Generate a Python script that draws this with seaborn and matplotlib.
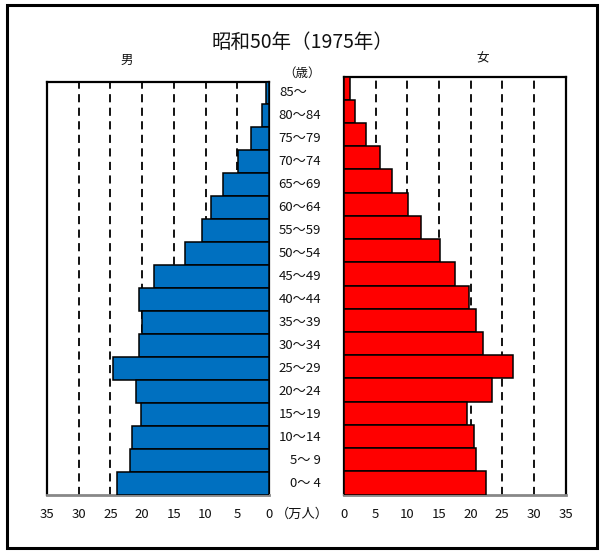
import matplotlib
matplotlib.use("Agg")
import matplotlib.pyplot as plt
import matplotlib.transforms as mtransforms
from matplotlib.patches import Rectangle
import seaborn as sns
import pandas as pd

sns.set_theme(style="white")
plt.rcParams["font.family"] = ["Noto Sans CJK JP", "DejaVu Sans"]

# Age groups, top (oldest) to bottom (youngest)
ages = ["85～", "80～84", "75～79", "70～74", "65～69", "60～64", "55～59",
        "50～54", "45～49", "40～44", "35～39", "30～34", "25～29", "20～24",
        "15～19", "10～14", "5～ 9", "0～ 4"]

# Population in units of 10,000 people
male = [0.5, 1.1, 2.8, 4.9, 7.2, 9.2, 10.5, 13.3, 18.2, 20.5, 20.0, 20.5,
        24.6, 21.0, 20.2, 21.6, 21.9, 23.9]
female = [0.9, 1.8, 3.5, 5.7, 7.6, 10.1, 12.1, 15.1, 17.6, 19.8, 20.9, 22.0,
          26.7, 23.4, 19.5, 20.6, 20.9, 22.5]

x_ticks = [0, 5, 10, 15, 20, 25, 30, 35]
grid_vals = [5, 10, 15, 20, 25, 30]

title = "昭和50年（1975年）"
male_label = "男"
female_label = "女"
age_unit = "（歳）"
pop_unit = "（万人）"

df = pd.DataFrame({"age": ages, "male": male, "female": female})

W, H = 604, 554
fig = plt.figure(figsize=(W / 100, H / 100), dpi=100)
fig.patch.set_facecolor("white")

TXT = "#111111"


def fx(px):
    return px / W


def fy(py):
    return 1 - py / H


axL = fig.add_axes([fx(47), fy(494.5), fx(269) - fx(47), (494.5 - 81.5) / H])
axR = fig.add_axes([fx(344), fy(494.5), fx(565.5) - fx(344), (494.5 - 76.5) / H])

sns.barplot(data=df, x="male", y="age", ax=axL, color="#0070C0",
            saturation=1, width=1.0, edgecolor="black", linewidth=1.1,
            orient="h", zorder=3)
sns.barplot(data=df, x="female", y="age", ax=axR, color="#FF0000",
            saturation=1, width=1.0, edgecolor="black", linewidth=1.1,
            orient="h", zorder=3)

n = len(ages)
for ax in (axL, axR):
    ax.set_ylim(n - 0.5, -0.5)
    ax.set_yticks([])
    ax.set_ylabel("")
    ax.set_xlabel("")
    ax.set_xticks(x_ticks)
    ax.set_xticklabels([str(v) for v in x_ticks], fontsize=9.5, color=TXT)
    ax.tick_params(axis="x", length=0, pad=10)
    for v in grid_vals:
        ax.axvline(v, color="black", lw=1.3, ls=(0, (4.5, 3)), zorder=1)
    for side in ("top", "left", "right"):
        ax.spines[side].set_visible(True)
        ax.spines[side].set_color("black")
        ax.spines[side].set_linewidth(1.6)
    ax.spines["bottom"].set_color("#888888")
    ax.spines["bottom"].set_linewidth(2)

axL.set_xlim(35, 0)
axR.set_xlim(0, 35)

# Age labels between the two halves, aligned with the male bars
trans = mtransforms.blended_transform_factory(fig.transFigure, axL.transData)
for i, a in enumerate(ages):
    if a == "85～":
        axL.text(fx(279), i, a, transform=trans, ha="left", va="center",
                 fontsize=9.5, color=TXT, clip_on=False)
    else:
        axL.text(fx(321), i, a, transform=trans, ha="right", va="center",
                 fontsize=9.5, color=TXT, clip_on=False)

fig.text(fx(302), fy(42), title, ha="center", va="center", fontsize=14,
         color=TXT)
fig.text(fx(127), fy(60), male_label, ha="center", va="center", fontsize=9,
         color=TXT)
fig.text(fx(483), fy(59), female_label, ha="center", va="center", fontsize=9,
         color=TXT)
fig.text(fx(302), fy(73), age_unit, ha="center", va="center", fontsize=9,
         color=TXT)
fig.text(fx(302), fy(514), pop_unit, ha="center", va="center", fontsize=9.5,
         color=TXT)

# Frame around the whole figure
fig.patches.append(Rectangle((fx(7), fy(548)), fx(597) - fx(7), (548 - 4.5) / H,
                             transform=fig.transFigure, fill=False,
                             edgecolor="black", linewidth=2.2))

fig.savefig("out.png", dpi=100)
